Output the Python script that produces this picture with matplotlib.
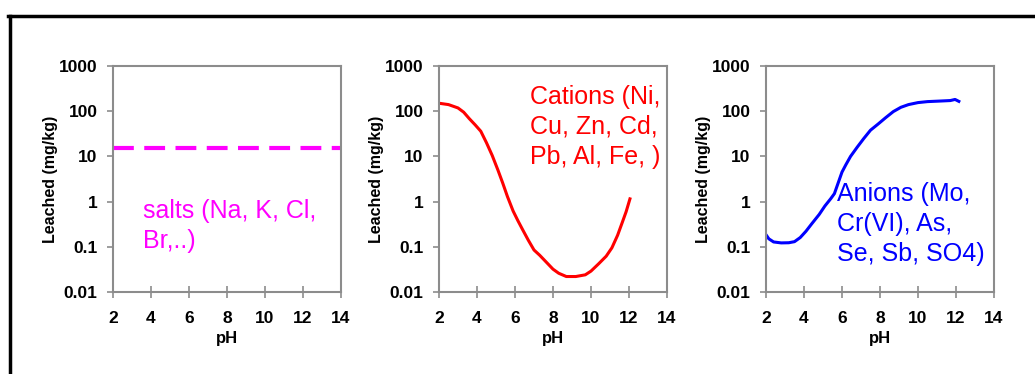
import matplotlib
matplotlib.use("Agg")
import matplotlib.pyplot as plt
from matplotlib.lines import Line2D

plt.rcParams["font.family"] = ["Liberation Sans", "DejaVu Sans"]

# salts: constant leaching
salt_ph = [2, 14]
salt_val = [15, 15]

# cations (Ni, Cu, Zn, Cd, Pb, Al, Fe)
cat_ph = [2.0, 2.5, 3.0, 3.3, 3.6, 3.9, 4.2, 4.5, 4.8, 5.1, 5.35, 5.6, 5.9, 6.15, 6.4,
          6.7, 7.0, 7.3, 7.6, 8.0, 8.3, 8.7, 9.2, 9.7, 10.0, 10.4, 10.8, 11.1, 11.4,
          11.65, 11.85, 12.05]
cat_val = [150, 140, 118, 95, 68, 50, 36, 20, 10.5, 5, 2.6, 1.3, 0.62, 0.38, 0.24,
           0.14, 0.085, 0.065, 0.048, 0.032, 0.026, 0.022, 0.022, 0.024, 0.029, 0.042,
           0.062, 0.095, 0.18, 0.35, 0.6, 1.15]

# anions (Mo, Cr(VI), As, Se, Sb, SO4)
an_ph = [2.0, 2.15, 2.4, 2.8, 3.2, 3.5, 3.8, 4.1, 4.4, 4.8, 5.1, 5.4, 5.6, 5.8, 6.0,
         6.2, 6.45, 6.8, 7.15, 7.5, 7.9, 8.3, 8.7, 9.1, 9.5, 10.0, 10.5, 11.2, 11.7,
         11.95, 12.15]
an_val = [0.185, 0.15, 0.128, 0.122, 0.123, 0.13, 0.16, 0.22, 0.32, 0.52, 0.8, 1.15,
          1.5, 2.6, 4.5, 6.5, 10, 16, 25, 38, 52, 72, 98, 122, 140, 155, 163, 168, 172,
          182, 165]

panel_left = [113, 439, 766]
labels = ["salts (Na, K, Cl,\nBr,..)", "Cations (Ni,\nCu, Zn, Cd,\nPb, Al, Fe, )",
          "Anions (Mo,\nCr(VI), As,\nSe, Sb, SO4)"]
label_pos = [(0.13, 0.41), (0.40, 0.915), (0.31, 0.485)]
colors = ["#ff00ff", "#ff0000", "#0000ff"]
series = [(salt_ph, salt_val), (cat_ph, cat_val), (an_ph, an_val)]

W, H = 1035, 374
fig = plt.figure(figsize=(W / 100, H / 100), dpi=100)

for i in range(3):
    ax = fig.add_axes([panel_left[i] / W, (H - 292) / H, 228 / W, 226 / H])
    x, y = series[i]
    if i == 0:
        ax.plot(x, y, color=colors[i], lw=3, ls=(0, (5, 2.5)))
    else:
        ax.plot(x, y, color=colors[i], lw=2.2, solid_joinstyle="round")
    ax.set_yscale("log")
    ax.set_ylim(0.01, 1000)
    ax.set_xlim(2, 14)
    ax.set_xticks([2, 4, 6, 8, 10, 12, 14])
    ax.set_yticks([0.01, 0.1, 1, 10, 100, 1000])
    ax.set_yticklabels(["0.01", "0.1", "1", "10", "100", "1000"])
    ax.minorticks_off()
    ax.tick_params(axis="y", direction="out", length=4, width=1.2, color="#8c8c8c", pad=7)
    ax.tick_params(axis="x", direction="inout", length=8, width=1.2, color="#8c8c8c", pad=10)
    for lab in ax.get_xticklabels() + ax.get_yticklabels():
        lab.set_fontweight("bold")
        lab.set_fontsize(12.5)
    for s in ax.spines.values():
        s.set_color("#8c8c8c")
        s.set_linewidth(1.5)
    ax.set_xlabel("pH", fontweight="bold", fontsize=12, labelpad=3)
    ax.set_ylabel("Leached (mg/kg)", fontweight="bold", fontsize=11.5, labelpad=1)
    ax.text(label_pos[i][0], label_pos[i][1], labels[i], transform=ax.transAxes,
            color=colors[i], fontsize=18, va="top", ha="left", linespacing=1.3)

# outer frame (cropped: only top and left edges visible)
fig.add_artist(Line2D([9.5 / W, 9.5 / W], [0, 1 - 15.5 / H], color="black", lw=2.5,
                      transform=fig.transFigure))
fig.add_artist(Line2D([8 / W, 1], [1 - 15.5 / H, 1 - 15.5 / H], color="black", lw=2.5,
                      transform=fig.transFigure))

fig.savefig("out.png", dpi=100)
